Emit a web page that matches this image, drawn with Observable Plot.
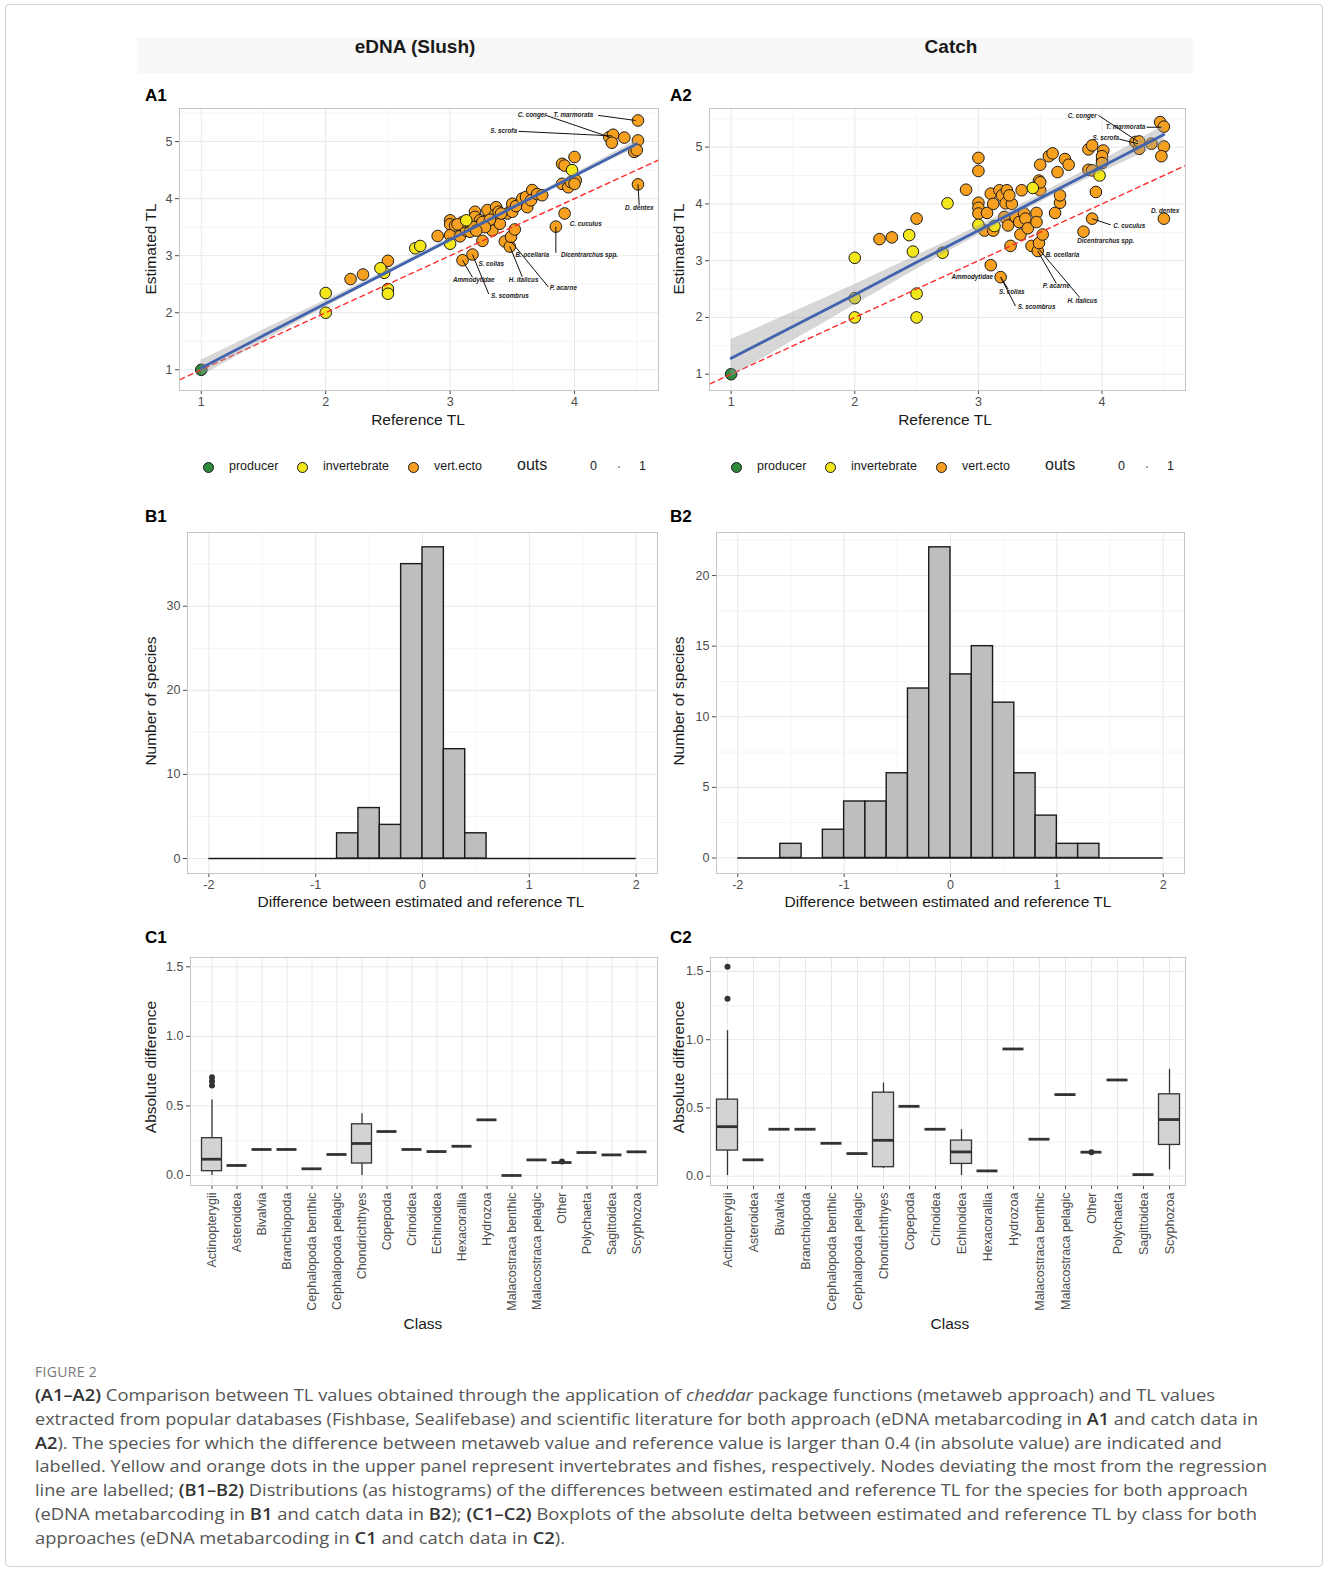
<!DOCTYPE html>
<html><head><meta charset="utf-8">
<script src="https://cdn.jsdelivr.net/npm/d3@7"></script>
<script src="https://cdn.jsdelivr.net/npm/@observablehq/plot@0.6"></script>
<style>
body{margin:0;background:#fff;}
#page{position:relative;width:1328px;height:1574px;overflow:hidden;font-family:"Liberation Sans",Arial,Helvetica,sans-serif;background:#fff;}
.abs{position:absolute;}
.ctr{transform:translate(-50%,-50%);white-space:nowrap;}
.axt{font-size:15.5px;color:#1a1a1a;}
.plab{font-size:17px;font-weight:bold;color:#000;}
.leg{font-size:12.5px;color:#1a1a1a;white-space:nowrap;}
.cap{font-family:"Open Sans","Noto Sans",sans-serif;color:#555;font-size:16.5px;white-space:nowrap;}
.cap b{color:#333;font-weight:600;}
</style></head><body><div id="page"></div>
<script>
// ---------------- DATA ----------------
// Panel A1 (eDNA): reference TL vs estimated TL
const a1ProdRef = [1.0];
const a1ProdEst = [1.0];
const a1InvRef = [2.0,2.0,2.5,2.5,2.47,2.44,2.72,2.76,3.0,3.13,3.98];
const a1InvEst = [2.0,2.345,2.415,2.333,2.70,2.78,3.13,3.17,3.21,3.62,4.50];
const a1VertRef = [2.2,2.3,2.5,2.9,3.0,3.0,3.0,3.04,3.1,3.18,3.08,3.13,3.1,3.17,3.2,3.2,3.24,3.235,3.26,3.29,3.30,3.34,3.37,3.36,3.40,3.39,3.44,3.48,3.49,3.52,3.46,3.5,3.5,3.5,3.53,3.58,3.61,3.62,3.66,3.65,3.70,3.74,3.85,3.92,3.90,3.92,3.90,3.95,3.97,4.0,4.01,4.0,4.28,4.31,4.30,4.40,4.51,4.51,4.48,4.50,4.51,3.06,3.16,3.19,3.26,3.32,3.41,3.28,3.21];
const a1VertEst = [2.59,2.67,2.91,3.345,3.62,3.55,3.36,3.53,2.92,3.02,3.34,3.44,3.59,3.50,3.77,3.68,3.62,3.53,3.26,3.62,3.80,3.44,3.85,3.71,3.56,3.77,3.25,3.16,3.33,3.46,3.74,3.82,3.91,3.77,3.87,4.0,4.03,3.85,4.15,3.97,4.08,4.06,3.51,3.74,4.61,4.58,4.26,4.20,4.29,4.73,4.32,4.26,5.08,5.12,4.98,5.07,5.37,5.02,4.82,4.85,4.25,3.55,3.42,3.50,3.59,3.63,3.74,3.50,3.44];
// Panel A2 (Catch)
const a2ProdRef = [1.0];
const a2ProdEst = [1.0];
const a2InvRef = [2.0,2.0,2.0,2.5,2.5,2.47,2.44,2.75,2.71,3.0,3.13,3.44,3.98];
const a2InvEst = [3.05,2.34,2.0,2.42,2.0,3.16,3.45,4.01,3.14,3.63,3.61,4.28,4.50];
const a2VertRef = [2.2,2.3,2.5,2.9,3.0,3.0,3.0,3.0,3.0,3.07,3.05,3.10,3.12,3.12,3.1,3.18,3.17,3.19,3.23,3.22,3.21,3.24,3.26,3.27,3.25,3.30,3.33,3.34,3.35,3.37,3.38,3.40,3.43,3.48,3.49,3.52,3.47,3.47,3.49,3.50,3.50,3.50,3.57,3.60,3.64,3.62,3.66,3.66,3.70,3.73,3.85,3.92,3.89,3.92,3.89,3.92,3.95,4.01,4.0,4.0,4.0,4.27,4.30,4.30,4.40,4.47,4.50,4.50,4.48,4.50];
const a2VertEst = [3.38,3.41,3.74,4.25,4.81,4.58,4.02,3.93,3.83,3.84,3.53,4.18,4.00,3.53,2.92,2.71,4.24,4.15,4.24,4.01,3.77,3.62,3.26,4.00,4.15,3.77,3.68,3.46,4.24,3.83,3.74,3.57,3.26,3.17,3.31,3.46,3.84,3.68,4.41,4.24,4.38,4.69,4.84,4.89,4.56,3.84,4.02,4.15,4.79,4.69,3.51,3.74,4.96,5.03,4.60,4.59,4.21,4.94,4.77,4.84,4.72,5.09,4.97,5.10,5.06,5.44,5.36,5.01,4.84,3.74];
// Regression fits
const regX = [1,1.5,2,2.5,3,3.5,4,4.5];
const a1Fit = [1.03,1.60,2.16,2.72,3.28,3.84,4.40,4.96];
const a1Lo  = [0.89,1.50,2.10,2.68,3.25,3.81,4.36,4.89];
const a1Hi  = [1.17,1.70,2.22,2.76,3.31,3.87,4.44,5.03];
const a2Fit = [1.28,1.84,2.40,2.97,3.53,4.10,4.66,5.22];
const a2Lo  = [0.95,1.59,2.22,2.85,3.45,4.03,4.56,5.06];
const a2Hi  = [1.61,2.09,2.58,3.09,3.61,4.17,4.76,5.38];
const identityLine = [0.5, 5.8];
// Labels: name, text x/y, segment start x/y (null = none), point x/y
const a1LabName = ["C. conger","T. marmorata","S. scrofa","D. dentex","C. cuculus","Dicentrarchus spp.","B. ocellaria","S. colias","Ammodytidae","H. italicus","P. acarne","S. scombrus"];
const a1LabX = [3.66,3.99,3.43,4.52,4.09,4.12,3.66,3.33,3.19,3.59,3.91,3.48];
const a1LabY = [5.46,5.46,5.18,3.83,3.56,3.01,3.01,2.86,2.57,2.58,2.44,2.30];
const a1SegX1 = [3.77,4.19,3.55,4.52,null,3.85,null,null,3.18,3.58,3.79,3.31];
const a1SegY1 = [5.46,5.46,5.18,3.88,null,3.05,null,null,2.62,2.63,2.45,2.33];
const a1SegX2 = [4.28,4.49,4.30,4.51,null,3.85,null,null,3.10,3.48,3.49,3.18];
const a1SegY2 = [5.08,5.37,5.10,4.25,null,3.51,null,null,2.92,3.16,3.25,3.02];
const a2LabName = ["C. conger","T. marmorata","S. scrofa","D. dentex","C. cuculus","Dicentrarchus spp.","B. ocellaria","Ammodytidae","S. colias","P. acarne","H. italicus","S. scombrus"];
const a2LabX = [3.84,4.19,4.03,4.51,4.22,4.03,3.68,2.95,3.27,3.63,3.84,3.47];
const a2LabY = [5.55,5.35,5.16,3.88,3.61,3.34,3.10,2.72,2.44,2.56,2.29,2.18];
const a2SegX1 = [3.97,4.36,4.14,null,4.07,null,null,null,3.24,3.63,3.82,3.30];
const a2SegY1 = [5.56,5.35,5.14,null,3.63,null,null,null,2.50,2.60,2.35,2.20];
const a2SegX2 = [4.29,4.48,4.29,null,3.92,null,null,null,3.18,3.48,3.49,3.18];
const a2SegY2 = [5.10,5.35,5.06,null,3.74,null,null,null,2.71,3.17,3.20,2.71];

// Histograms (bin width 0.2)
const binLo = [-2.0,-1.8,-1.6,-1.4,-1.2,-1.0,-0.8,-0.6,-0.4,-0.2,0.0,0.2,0.4,0.6,0.8,1.0,1.2,1.4,1.6,1.8];
const binHi = [-1.8,-1.6,-1.4,-1.2,-1.0,-0.8,-0.6,-0.4,-0.2,0.0,0.2,0.4,0.6,0.8,1.0,1.2,1.4,1.6,1.8,2.0];
const b1Counts = [0,0,0,0,0,0,3,6,4,35,37,13,3,0,0,0,0,0,0,0];
const b2Counts = [0,0,1,0,2,4,4,6,12,22,13,15,11,6,3,1,1,0,0,0];
const histRange = [-2, 2];

// Boxplots
const classes = ["Actinopterygii","Asteroidea","Bivalvia","Branchiopoda","Cephalopoda benthic","Cephalopoda pelagic","Chondrichthyes","Copepoda","Crinoidea","Echinoidea","Hexacorallia","Hydrozoa","Malacostraca benthic","Malacostraca pelagic","Other","Polychaeta","Sagittoidea","Scyphozoa"];
const c1Lo  = [0.0,0.072,0.187,0.187,0.048,0.151,0.0,0.316,0.187,0.172,0.21,0.40,0.0,0.112,0.093,0.165,0.148,0.17];
const c1Q1  = [0.031,0.072,0.187,0.187,0.048,0.151,0.086,0.316,0.187,0.172,0.21,0.40,0.0,0.112,0.093,0.165,0.148,0.17];
const c1Med = [0.117,0.072,0.187,0.187,0.048,0.151,0.23,0.316,0.187,0.172,0.21,0.40,0.0,0.112,0.093,0.165,0.148,0.17];
const c1Q3  = [0.268,0.072,0.187,0.187,0.048,0.151,0.368,0.316,0.187,0.172,0.21,0.40,0.0,0.112,0.093,0.165,0.148,0.17];
const c1Hi  = [0.543,0.072,0.187,0.187,0.048,0.151,0.443,0.316,0.187,0.172,0.21,0.40,0.0,0.112,0.093,0.165,0.148,0.17];
const c1OutClass = ["Actinopterygii","Actinopterygii","Actinopterygii","Other"];
const c1OutVal = [0.646,0.677,0.706,0.10];
const c2Lo  = [0.005,0.12,0.344,0.344,0.241,0.166,0.056,0.512,0.344,0.005,0.039,0.932,0.271,0.598,0.176,0.705,0.012,0.046];
const c2Q1  = [0.188,0.12,0.344,0.344,0.241,0.166,0.066,0.512,0.344,0.09,0.039,0.932,0.271,0.598,0.176,0.705,0.012,0.229];
const c2Med = [0.363,0.12,0.344,0.344,0.241,0.166,0.263,0.512,0.344,0.178,0.039,0.932,0.271,0.598,0.176,0.705,0.012,0.415];
const c2Q3  = [0.561,0.12,0.344,0.344,0.241,0.166,0.612,0.512,0.344,0.261,0.039,0.932,0.271,0.598,0.176,0.705,0.012,0.60];
const c2Hi  = [1.066,0.12,0.344,0.344,0.241,0.166,0.683,0.512,0.344,0.341,0.039,0.932,0.271,0.598,0.176,0.705,0.012,0.783];
const c2OutClass = ["Actinopterygii","Actinopterygii","Other"];
const c2OutVal = [1.30,1.534,0.176];

// ---------------- STYLE ----------------
const COL = {producer:"#2f8a3c", invertebrate:"#f3e61a", vert:"#f7a01f"};
const GRID_MAJ = "#e8e8e8", GRID_MIN = "#f4f4f4", FRAME = "#c6c6c6";
const page = document.getElementById("page");

function el(tag, cls, html, css){ const e=document.createElement(tag); if(cls) e.className=cls; if(html!=null) e.innerHTML=html; Object.assign(e.style, css||{}); page.appendChild(e); return e; }
function mount(opts, frame, pad){
  const w = frame[2]-frame[0]+pad.l+pad.r, h = frame[3]-frame[1]+pad.t+pad.b;
  const svg = Plot.plot(Object.assign({width:w, height:h, marginLeft:pad.l, marginRight:pad.r, marginTop:pad.t, marginBottom:pad.b,
    style:{fontFamily:'"Liberation Sans",Arial,sans-serif', fontSize:"12.5px", color:"#4d4d4d", background:"transparent", overflow:"visible"}}, opts));
  const d = document.createElement("div"); d.className="abs"; d.style.left=(frame[0]-pad.l)+"px"; d.style.top=(frame[1]-pad.t)+"px";
  d.appendChild(svg); page.appendChild(d);
}
const zip2 = (xs, ys, extra) => xs.map((x,i)=>Object.assign({x, y:ys[i]}, extra||{}));

// ---------------- FRAME / TITLES ----------------
el("div","abs","",{left:"5px",top:"4px",width:"1316px",height:"1561px",border:"1px solid #d4d4d4",borderRadius:"4px"});
el("div","abs","",{left:"137px",top:"37px",width:"1056px",height:"36px",background:"#f8f8f8"});
el("div","abs ctr","eDNA (Slush)",{left:"415px",top:"47px",fontSize:"19px",fontWeight:"bold",color:"#1a1a1a"});
el("div","abs ctr","Catch",{left:"951px",top:"47px",fontSize:"19px",fontWeight:"bold",color:"#1a1a1a"});
[["A1",145,96],["A2",670,96],["B1",145,517],["B2",670,517],["C1",145,938],["C2",670,938]].forEach(([t,x,y])=>{
  el("div","abs plab",t,{left:x+"px",top:(y-10)+"px"});
});

// ---------------- SCATTER ----------------
function scatter(frame, ydom, P, I, V, fit, lo, hi, lab){
  const reg = regX.map((x,i)=>({x, fit:fit[i], lo:lo[i], hi:hi[i]}));
  const labs = lab.name.map((n,i)=>({n, tx:lab.x[i], ty:lab.y[i], x1:lab.x1[i], y1:lab.y1[i], x2:lab.x2[i], y2:lab.y2[i]}));
  const segs = labs.filter(d=>d.x1!=null);
  const pts = [...V.map(d=>({...d,c:COL.vert})), ...I.map(d=>({...d,c:COL.invertebrate})), ...P.map(d=>({...d,c:COL.producer}))];
  mount({
    x:{domain:[0.825,4.675], ticks:[1,2,3,4], tickSize:4, tickPadding:3, label:null, tickFormat:d=>d},
    y:{domain:ydom, ticks:[1,2,3,4,5], tickSize:4, tickPadding:3, label:null, tickFormat:d=>d},
    marks:[
      Plot.ruleX([1.5,2.5,3.5,4.5],{stroke:GRID_MIN}),
      Plot.ruleY([1.5,2.5,3.5,4.5,5.5],{stroke:GRID_MIN}),
      Plot.ruleX([1,2,3,4],{stroke:GRID_MAJ}),
      Plot.ruleY([1,2,3,4,5],{stroke:GRID_MAJ}),
      Plot.dot(pts,{x:"x",y:"y",r:5.8,fill:"c",stroke:"#1a1a1a",strokeWidth:1}),
      Plot.line(identityLine,{x:d=>d,y:d=>d,stroke:"#ff2d2d",strokeWidth:1.4,strokeDasharray:"5,4",clip:true}),
      Plot.areaY(reg,{x:"x",y1:"lo",y2:"hi",fill:"#9a9a9a",fillOpacity:0.4,curve:"natural"}),
      Plot.line(reg,{x:"x",y:"fit",stroke:"#4263ae",strokeWidth:2.8}),
      Plot.link(segs,{x1:"x1",y1:"y1",x2:"x2",y2:"y2",stroke:"#111",strokeWidth:1}),
      Plot.text(labs,{x:"tx",y:"ty",text:"n",fontSize:6.3,fontWeight:"bold",fontStyle:"italic",fill:"#222"}),
      Plot.frame({stroke:FRAME})
    ]
  }, frame, {l:40,t:5,r:5,b:40});
}
scatter([179,108,658,390],[0.637,5.58], zip2(a1ProdRef,a1ProdEst), zip2(a1InvRef,a1InvEst), zip2(a1VertRef,a1VertEst), a1Fit,a1Lo,a1Hi,
  {name:a1LabName,x:a1LabX,y:a1LabY,x1:a1SegX1,y1:a1SegY1,x2:a1SegX2,y2:a1SegY2});
scatter([709,108,1185,390],[0.713,5.68], zip2(a2ProdRef,a2ProdEst), zip2(a2InvRef,a2InvEst), zip2(a2VertRef,a2VertEst), a2Fit,a2Lo,a2Hi,
  {name:a2LabName,x:a2LabX,y:a2LabY,x1:a2SegX1,y1:a2SegY1,x2:a2SegX2,y2:a2SegY2});

el("div","abs ctr axt","Reference TL",{left:"418px",top:"420px"});
el("div","abs ctr axt","Reference TL",{left:"945px",top:"420px"});
el("div","abs ctr axt","Estimated TL",{left:"151px",top:"249px",transform:"translate(-50%,-50%) rotate(-90deg)"});
el("div","abs ctr axt","Estimated TL",{left:"679px",top:"249px",transform:"translate(-50%,-50%) rotate(-90deg)"});

// Legends
function legend(ox){
  const items = [["producer",COL.producer,208,229],["invertebrate",COL.invertebrate,302,323],["vert.ecto",COL.vert,413,434]];
  items.forEach(([t,c,dx,tx])=>{
    el("div","abs","",{left:(ox+dx-5.5)+"px",top:"461.5px",width:"9px",height:"9px",borderRadius:"50%",background:c,border:"1px solid #1a1a1a"});
    el("div","abs leg",t,{left:(ox+tx)+"px",top:"459px"});
  });
  el("div","abs leg","outs",{left:(ox+517)+"px",top:"456px",fontSize:"16px",fontFamily:'"Liberation Sans Narrow","Liberation Sans",Arial,sans-serif'});
  el("div","abs leg","0",{left:(ox+590)+"px",top:"459px"});
  el("div","abs","",{left:(ox+618)+"px",top:"466px",width:"2px",height:"2px",borderRadius:"50%",background:"#888"});
  el("div","abs leg","1",{left:(ox+639)+"px",top:"459px"});
}
legend(0); legend(528);

// ---------------- HISTOGRAMS ----------------
function hist(frame, counts, ydom, yticks, yminor){
  const bins = binLo.map((lo,i)=>({lo, hi:binHi[i], n:counts[i]})).filter(d=>d.n>0);
  mount({
    x:{domain:[-2.2,2.2], ticks:[-2,-1,0,1,2], tickSize:4, tickPadding:3, label:null, tickFormat:d=>d},
    y:{domain:ydom, ticks:yticks, tickSize:4, tickPadding:3, label:null, tickFormat:d=>d},
    marks:[
      Plot.ruleX([-1.5,-0.5,0.5,1.5],{stroke:GRID_MIN}),
      Plot.ruleY(yminor,{stroke:GRID_MIN}),
      Plot.ruleX([-2,-1,0,1,2],{stroke:GRID_MAJ}),
      Plot.ruleY(yticks,{stroke:GRID_MAJ}),
      Plot.ruleY([0],{x1:histRange[0],x2:histRange[1],stroke:"#1a1a1a",strokeWidth:1.6}),
      Plot.rectY(bins,{x1:"lo",x2:"hi",y1:0,y2:"n",fill:"#bebebe",stroke:"#1a1a1a",strokeWidth:1.4}),
      Plot.frame({stroke:FRAME})
    ]
  }, frame, {l:40,t:5,r:5,b:40});
}
hist([187,532,657,873], b1Counts, [-1.78,38.76], [0,10,20,30], [5,15,25,35]);
hist([716,532,1184,873], b2Counts, [-1.1,23.05], [0,5,10,15,20], [2.5,7.5,12.5,17.5,22.5]);
el("div","abs ctr axt","Number of species",{left:"151px",top:"701px",transform:"translate(-50%,-50%) rotate(-90deg)"});
el("div","abs ctr axt","Number of species",{left:"679px",top:"701px",transform:"translate(-50%,-50%) rotate(-90deg)"});
el("div","abs ctr axt","Difference between estimated and reference TL",{left:"421px",top:"902px"});
el("div","abs ctr axt","Difference between estimated and reference TL",{left:"948px",top:"902px"});

// ---------------- BOXPLOTS ----------------
function boxes(frame, ydom, lo, q1, med, q3, hi, outC, outV){
  const rows = classes.map((c,i)=>({c, lo:lo[i], q1:q1[i], med:med[i], q3:q3[i], hi:hi[i]}));
  const outs = outC.map((c,i)=>({c, v:outV[i]}));
  mount({
    x:{type:"band", domain:classes, paddingInner:0, paddingOuter:0.1, tickSize:4, tickPadding:3, tickRotate:-90, label:null},
    y:{domain:ydom, ticks:[0,0.5,1,1.5], tickSize:4, tickPadding:3, label:null, tickFormat:d3.format(".1f")},
    marks:[
      Plot.ruleY([0.25,0.75,1.25],{stroke:GRID_MIN}),
      Plot.ruleY([0,0.5,1,1.5],{stroke:GRID_MAJ}),
      Plot.ruleX(classes,{x:d=>d,stroke:GRID_MAJ}),
      Plot.ruleX(rows,{x:"c",y1:"lo",y2:"hi",stroke:"#333",strokeWidth:1.3}),
      Plot.barY(rows.filter(d=>d.q3>d.q1),{x:"c",y1:"q1",y2:"q3",fill:"#d3d3d3",stroke:"#333",strokeWidth:1.3,insetLeft:2.5,insetRight:2.5}),
      Plot.tickY(rows,{x:"c",y:"med",stroke:"#333",strokeWidth:2.8,insetLeft:2.5,insetRight:2.5}),
      Plot.dot(outs,{x:"c",y:"v",r:3,fill:"#333"}),
      Plot.frame({stroke:FRAME})
    ]
  }, frame, {l:40,t:5,r:5,b:140});
}
boxes([190,957,657,1185],[-0.072,1.567], c1Lo,c1Q1,c1Med,c1Q3,c1Hi,c1OutClass,c1OutVal);
boxes([710,957,1185,1185],[-0.068,1.602], c2Lo,c2Q1,c2Med,c2Q3,c2Hi,c2OutClass,c2OutVal);
el("div","abs ctr axt","Absolute difference",{left:"151px",top:"1067px",transform:"translate(-50%,-50%) rotate(-90deg)"});
el("div","abs ctr axt","Absolute difference",{left:"679px",top:"1067px",transform:"translate(-50%,-50%) rotate(-90deg)"});
el("div","abs ctr axt","Class",{left:"423px",top:"1324px"});
el("div","abs ctr axt","Class",{left:"950px",top:"1324px"});

// ---------------- CAPTION ----------------
el("div","abs cap","FIGURE 2",{left:"35px",top:"1362px",fontSize:"14px",color:"#777",letterSpacing:"0.3px"});
const capLines = [
 "<b>(A1–A2)</b> Comparison between TL values obtained through the application of <i>cheddar</i> package functions (metaweb approach) and TL values",
 "extracted from popular databases (Fishbase, Sealifebase) and scientific literature for both approach (eDNA metabarcoding in <b>A1</b> and catch data in",
 "<b>A2</b>). The species for which the difference between metaweb value and reference value is larger than 0.4 (in absolute value) are indicated and",
 "labelled. Yellow and orange dots in the upper panel represent invertebrates and fishes, respectively. Nodes deviating the most from the regression",
 "line are labelled; <b>(B1–B2)</b> Distributions (as histograms) of the differences between estimated and reference TL for the species for both approach",
 "(eDNA metabarcoding in <b>B1</b> and catch data in <b>B2</b>); <b>(C1–C2)</b> Boxplots of the absolute delta between estimated and reference TL by class for both",
 "approaches (eDNA metabarcoding in <b>C1</b> and catch data in <b>C2</b>)."
];
const capEnds = [1215,1258,1222,1267,1248,1257,565];
capLines.forEach((h,i)=>{
  const e = el("div","abs cap",h,{left:"35px",top:(1383+i*23.8)+"px",display:"inline-block",transformOrigin:"0 0"});
  const w = e.getBoundingClientRect().width;
  e.style.transform = "scaleX("+((capEnds[i]-35)/w)+")";
});
</script></body></html>
